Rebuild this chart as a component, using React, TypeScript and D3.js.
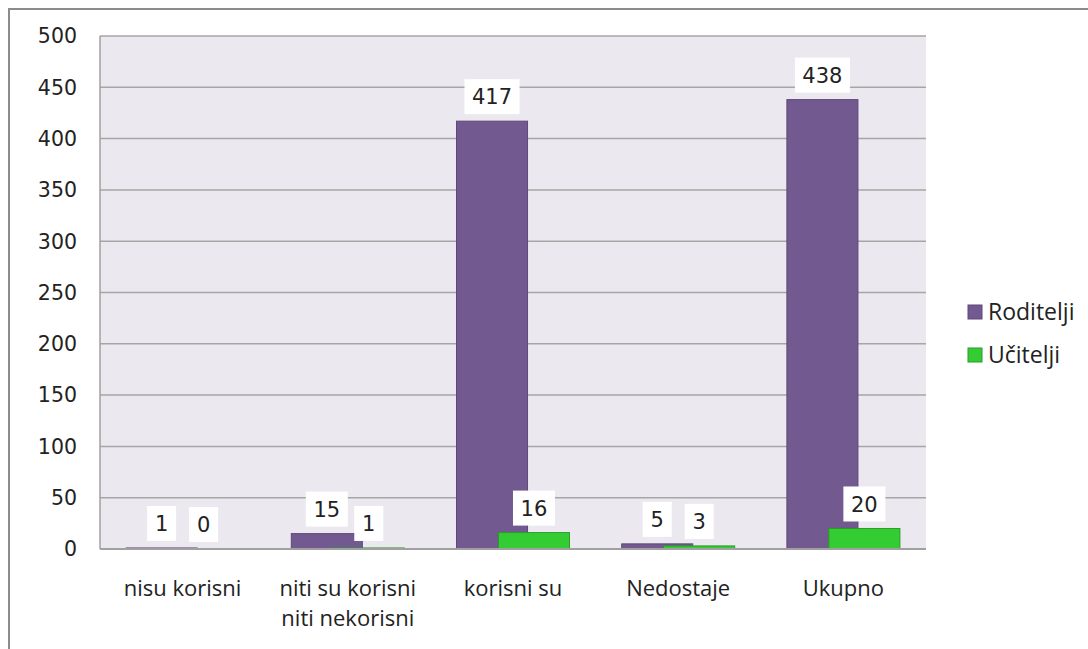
import React from "react";
import * as d3 from "d3";

const categories = ["nisu korisni", "niti su korisni\nniti nekorisni", "korisni su", "Nedostaje", "Ukupno"];
const roditelji = [1, 15, 417, 5, 438];
const ucitelji = [0, 1, 16, 3, 20];
const seriesNames = ["Roditelji", "Učitelji"];
const yTicks = [0, 50, 100, 150, 200, 250, 300, 350, 400, 450, 500];

const W = 1088;
const H = 649;
const plot = { left: 100, right: 926, top: 36, bottom: 549 };
const colors = ["#72598f", "#33cc33"];
const strokes = ["#5e4878", "#2b9c2b"];
const numFont = "DejaVu Sans, sans-serif";
const txtFont = "Open Sans, sans-serif";

export default function App() {
  const x = d3.scaleBand<string>().domain(categories).range([plot.left, plot.right]).paddingInner(0).paddingOuter(0);
  const y = d3.scaleLinear().domain([0, 500]).range([plot.bottom, plot.top]);
  const band = x.bandwidth();
  const bw = band * 0.43;
  const off = band * 0.254;
  const groupStart = (c: string) => (x(c) as number) + (band - (bw + off)) / 2;
  const series = [roditelji, ucitelji];

  const labels: { cx: number; top: number; v: number }[] = [];
  series.forEach((s, si) =>
    s.forEach((v, i) => {
      const c = categories[i];
      labels.push({ cx: groupStart(c) + si * off + bw / 2, top: y(v), v });
    })
  );

  return (
    <svg width={W} height={H} style={{ position: "absolute", left: 0, top: 0 }}>
      <rect x={0} y={0} width={W} height={H} fill="#ffffff" />
      <line x1={8} y1={9} x2={W} y2={9} stroke="#8c8c8c" strokeWidth={2} />
      <line x1={9} y1={8} x2={9} y2={H} stroke="#8c8c8c" strokeWidth={2} />
      <rect x={plot.left} y={plot.top} width={plot.right - plot.left} height={plot.bottom - plot.top} fill="#ebe9ef" />
      {yTicks.map((t) => (
        <g key={t}>
          {t > 0 && (
            <line x1={plot.left} x2={plot.right} y1={y(t)} y2={y(t)} stroke="#a6a6a6" strokeWidth={1.5} />
          )}
          <text x={77} y={y(t)} dy="0.36em" textAnchor="end" fontFamily={numFont} fontSize={20.5} fill="#222">
            {t}
          </text>
        </g>
      ))}
      <line x1={plot.left} x2={plot.left} y1={plot.top} y2={plot.bottom} stroke="#a0a0a0" strokeWidth={1.5} />
      {series.map((s, si) =>
        s.map((v, i) => {
          if (v <= 0) return null;
          const c = categories[i];
          const bx = groupStart(c) + si * off;
          return (
            <rect
              key={si + "-" + i}
              x={bx}
              y={y(v)}
              width={bw}
              height={Math.max(0, plot.bottom - y(v))}
              fill={colors[si]}
              stroke={strokes[si]}
              strokeWidth={1}
            />
          );
        })
      )}
      <line x1={plot.left} x2={plot.right} y1={plot.bottom} y2={plot.bottom} stroke="#a0a0a0" strokeWidth={2} />
      {labels.map((l, i) => {
        const tw = String(l.v).length * 13;
        const bwid = tw + 16;
        const bh = 35;
        const by = l.top - 7 - bh;
        return (
          <g key={"l" + i}>
            <rect x={l.cx - bwid / 2} y={by} width={bwid} height={bh} fill="#ffffff" />
            <text x={l.cx} y={by + bh / 2} dy="0.36em" textAnchor="middle" fontFamily={numFont} fontSize={21} fill="#222">
              {l.v}
            </text>
          </g>
        );
      })}
      {categories.map((c) => {
        const lines = c.split("\n");
        const cx = (x(c) as number) + band / 2;
        return (
          <text key={c} x={cx} textAnchor="middle" fontFamily={txtFont} fontSize={22} fill="#222">
            {lines.map((ln, j) => (
              <tspan key={j} x={cx} y={588 + j * 30} dy="0.36em">
                {ln}
              </tspan>
            ))}
          </text>
        );
      })}
      {seriesNames.map((n, i) => (
        <g key={n}>
          <rect x={968} y={305 + i * 43} width={14} height={14} fill={colors[i]} stroke={strokes[i]} strokeWidth={1} />
          <text x={988} y={312 + i * 43} dy="0.36em" fontFamily={txtFont} fontSize={23} fill="#222">
            {n}
          </text>
        </g>
      ))}
    </svg>
  );
}
